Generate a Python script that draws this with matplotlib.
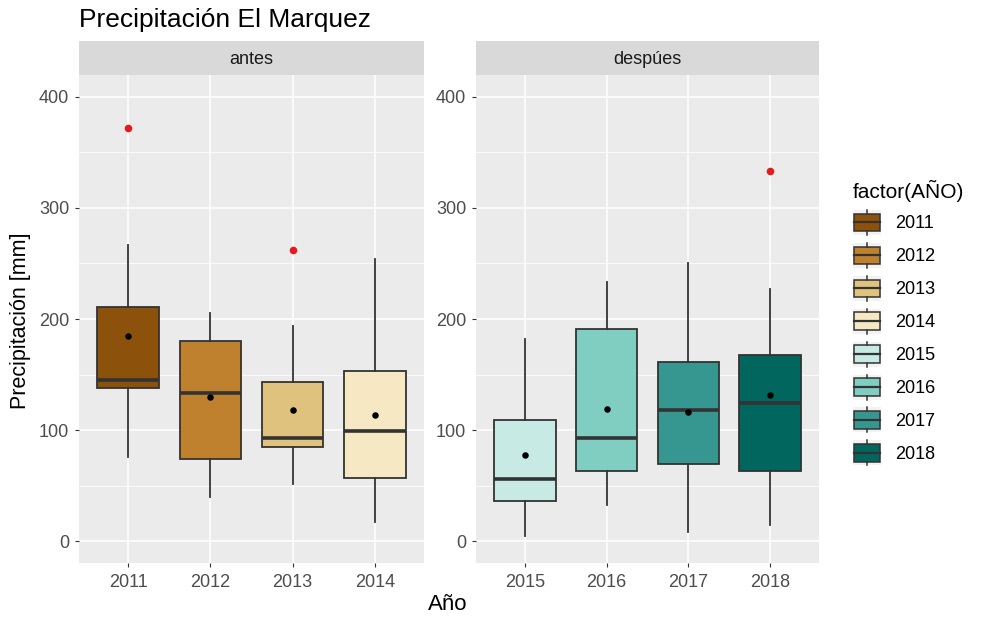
import matplotlib
import matplotlib.pyplot as plt
from matplotlib.patches import Rectangle
from matplotlib.lines import Line2D
from matplotlib.legend_handler import HandlerBase

matplotlib.use('Agg')
plt.rcParams['font.family'] = ['Liberation Sans', 'DejaVu Sans']

# values (mm)
years_antes = ['2011', '2012', '2013', '2014']
years_despues = ['2015', '2016', '2017', '2018']
whislo = [76, 40, 52, 17, 5, 33, 8, 15]
q1 = [138, 74, 85, 57, 36, 63, 70, 63]
med = [145, 133, 93, 99, 56, 93, 118, 124]
q3 = [211, 180, 143, 153, 109, 191, 161, 168]
whishi = [267, 205, 194, 254, 182, 233, 250, 227]
means = [185, 130, 118, 114, 78, 119, 116, 132]
outliers = [[372], [], [262], [], [], [], [], [333]]
colors = ['#8C510A', '#BF812D', '#DFC27D', '#F6E8C3',
          '#C7EAE5', '#80CDC1', '#35978F', '#01665E']

W, H = 1002, 623
fig = plt.figure(figsize=(W / 100, H / 100), dpi=100)

edge = '#333333'


def px_axes(x0, y0, x1, y1):
    return fig.add_axes([x0 / W, 1 - y1 / H, (x1 - x0) / W, (y1 - y0) / H])


def draw_panel(x0, x1, labels, offset, strip):
    ax = px_axes(x0, 75, x1, 563)
    ax.set_facecolor('#EBEBEB')
    stats = []
    for i in range(len(labels)):
        k = offset + i
        stats.append(dict(med=med[k], q1=q1[k], q3=q3[k], whislo=whislo[k],
                          whishi=whishi[k], fliers=[]))
    pos = list(range(1, len(labels) + 1))
    bp = ax.bxp(stats, positions=pos, widths=0.75, patch_artist=True,
                showcaps=False, showfliers=False,
                boxprops=dict(edgecolor=edge, linewidth=1.3),
                medianprops=dict(color=edge, linewidth=2.6),
                whiskerprops=dict(color=edge, linewidth=1.3), zorder=3)
    for i, b in enumerate(bp['boxes']):
        b.set_facecolor(colors[offset + i])
    for i in range(len(labels)):
        k = offset + i
        if outliers[k]:
            ax.scatter([pos[i]] * len(outliers[k]), outliers[k], s=30,
                       color='#E41A1C', zorder=4, linewidths=0)
        ax.scatter([pos[i]], [means[k]], s=22, color='black', zorder=5, linewidths=0)
    ax.set_xlim(0.4, len(labels) + 0.6)
    ax.set_ylim(-19.5, 419.5)
    ax.set_xticks(pos)
    ax.set_xticklabels(labels)
    ax.set_yticks([0, 100, 200, 300, 400])
    ax.set_yticks([50, 150, 250, 350], minor=True)
    ax.grid(True, which='major', color='white', linewidth=1.1, zorder=0)
    ax.grid(True, which='minor', axis='y', color='white', linewidth=0.55, zorder=0)
    ax.set_axisbelow(True)
    for s in ax.spines.values():
        s.set_visible(False)
    ax.tick_params(which='major', length=3, width=0.8, color=edge,
                   labelsize=13, labelcolor='#4D4D4D', pad=4)
    ax.tick_params(axis='x', which='major', pad=5)
    ax.tick_params(which='minor', length=0)
    sax = px_axes(x0, 41, x1, 75)
    sax.set_facecolor('#D9D9D9')
    sax.set_xticks([])
    sax.set_yticks([])
    for s in sax.spines.values():
        s.set_visible(False)
    sax.text(0.5, 0.45, strip, ha='center', va='center', fontsize=13,
             color='#1A1A1A', transform=sax.transAxes)
    return ax


draw_panel(79, 424, years_antes, 0, 'antes')
draw_panel(476, 819, years_despues, 4, 'despúes')

fig.text(79 / W, 1 - 26.5 / H, 'Precipitación El Marquez', fontsize=19,
         ha='left', va='baseline', color='black')
fig.text(21 / W, 1 - 321 / H, 'Precipitación [mm]', fontsize=15.5,
         rotation=90, ha='center', va='center', color='black')
fig.text(448 / W, 1 - 604 / H, 'Año', fontsize=16, ha='center',
         va='center', color='black')


class BoxHandler(HandlerBase):
    def create_artists(self, legend, orig_handle, xdescent, ydescent,
                       width, height, fontsize, trans):
        x0, y0 = -xdescent, -ydescent
        bg = Rectangle((x0, y0), width, height, facecolor='#F2F2F2',
                       edgecolor='none', transform=trans)
        bx = Rectangle((x0 + 0.04 * width, y0 + 0.15 * height), 0.92 * width,
                       0.7 * height, facecolor=orig_handle.get_facecolor(),
                       edgecolor=edge, linewidth=1.1, transform=trans)
        cx = x0 + width / 2
        w1 = Line2D([cx, cx], [y0, y0 + 0.15 * height],
                    color=edge, linewidth=1.1, transform=trans)
        w2 = Line2D([cx, cx], [y0 + 0.85 * height, y0 + height],
                    color=edge, linewidth=1.1, transform=trans)
        md = Line2D([x0 + 0.04 * width, x0 + 0.96 * width],
                    [y0 + 0.5 * height, y0 + 0.5 * height],
                    color=edge, linewidth=1.6, transform=trans)
        return [bg, bx, w1, w2, md]


handles = [Rectangle((0, 0), 1, 1, facecolor=c) for c in colors]
leg = fig.legend(handles, years_antes + years_despues, title='factor(AÑO)',
                 loc='upper left', bbox_to_anchor=(853 / W, 1 - 180 / H),
                 frameon=False, fontsize=13, title_fontsize=15,
                 handler_map={Rectangle: BoxHandler()},
                 handlelength=1.55, handleheight=1.75, labelspacing=0.44,
                 handletextpad=0.8, borderpad=0.0, borderaxespad=0.0)
leg._legend_box.align = 'left'

fig.savefig('out.png', dpi=100)
plt.close(fig)
